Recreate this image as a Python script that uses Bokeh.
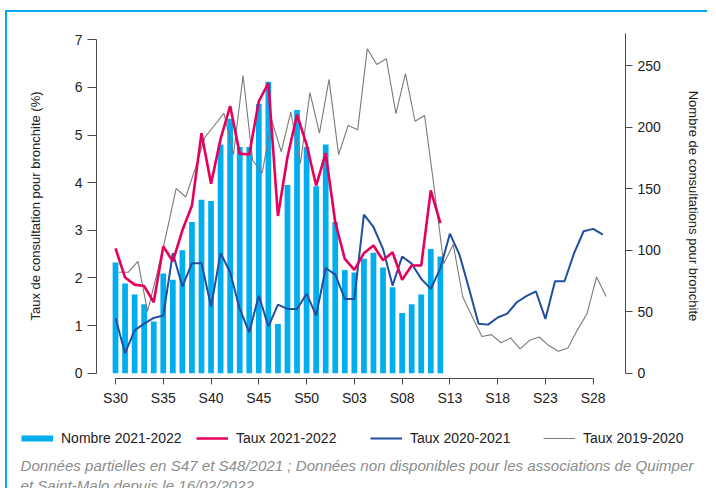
from bokeh.plotting import figure
from bokeh.layouts import column
from bokeh.models import Range1d, LinearAxis, FixedTicker, Legend, LegendItem, Label, ColumnDataSource
from bokeh.transform import dodge
from bokeh.embed import file_html
from bokeh.resources import INLINE

# ---------------- data ----------------
weeks = list(range(30, 53)) + list(range(1, 30))
tick_labels = ["S30", "S35", "S40", "S45", "S50", "S03", "S08", "S13", "S18", "S23", "S28"]

nombre_2122 = [90, 73, 64, 56, 42, 81, 76, 100, 123, 141, 140, 186, 207, 184, 184, 219, 237, 40,
               153, 214, 184, 152, 186, 123, 84, 82, 93, 98, 86, 70, 49, 56, 64, 101, 95]

taux_2122 = [2.62, 2.01, 1.86, 1.83, 1.49, 2.66, 2.35, 3.00, 3.52, 5.04, 3.98, 4.92, 5.61, 4.61,
             4.59, 5.71, 6.09, 3.30, 4.54, 5.43, 4.80, 3.94, 4.62, 3.17, 2.40, 2.17, 2.52, 2.68,
             2.37, 2.54, 1.96, 2.26, 2.26, 3.84, 3.15]

taux_2021 = [1.16, 0.42, 0.90, 1.04, 1.16, 1.21, 2.52, 1.82, 2.31, 2.31, 1.40, 2.52, 2.12, 1.35,
             0.86, 1.63, 0.98, 1.44, 1.35, 1.35, 1.67, 1.21, 2.21, 2.07, 1.56, 1.56, 3.33, 3.07,
             2.61, 1.84, 2.45, 2.30, 1.98, 1.77, 2.20, 2.93, 2.49, 1.78, 1.04, 1.02, 1.17, 1.25,
             1.49, 1.62, 1.72, 1.14, 1.93, 1.93, 2.52, 2.98, 3.03, 2.91]

taux_1920 = [2.12, 2.12, 2.35, 1.30, 2.10, 2.95, 3.88, 3.70, 4.30, 4.95, 5.20, 5.46, 4.59, 6.25,
             4.47, 4.20, 5.31, 4.65, 5.48, 4.40, 5.89, 5.04, 6.17, 4.59, 5.20, 5.11, 6.81, 6.48,
             6.60, 5.45, 6.29, 5.29, 5.41, 3.90, 2.30, 2.70, 1.60, 1.18, 0.77, 0.81, 0.64, 0.74,
             0.51, 0.69, 0.76, 0.58, 0.46, 0.53, 0.91, 1.25, 2.02, 1.61]

left_ticks = [0, 1, 2, 3, 4, 5, 6, 7]
right_ticks = [0, 50, 100, 150, 200, 250]

series_labels = ["Nombre 2021-2022", "Taux 2021-2022", "Taux 2020-2021", "Taux 2019-2020"]
notes = ["Données partielles en S47 et S48/2021 ; Données non disponibles pour les associations de Quimper",
         "et Saint-Malo depuis le 16/02/2022"]

# ---------------- styles ----------------
CYAN = "#00aeef"
RED = "#e6005c"
BLUE = "#1f4f9e"
GREY = "#7a7a7a"
AX = "#4a4a4a"
TXT = "#222222"
FONT = "Liberation Sans"

K = 38.74              # counts per % on the right axis
y0, y1 = -0.111, 7.132
x0, x1 = -1.99, 53.38

p = figure(width=700, height=410, output_backend="svg", toolbar_location=None,
           x_range=Range1d(x0, x1), y_range=Range1d(y0, y1),
           min_border_left=89, min_border_right=82, min_border_top=21, min_border_bottom=44)
p.frame_align = False
p.extra_y_ranges = {"n": Range1d(y0 * K, y1 * K)}
p.outline_line_color = None
p.xgrid.visible = False
p.ygrid.visible = False

idx = list(range(len(weeks)))

p.vbar(x=idx[:len(nombre_2122)], top=nombre_2122, width=0.6, y_range_name="n",
       fill_color=CYAN, line_color=None)
src_1920 = ColumnDataSource(dict(x=idx[:len(taux_1920)], y=taux_1920))
p.line(x=dodge("x", 0.35, range=p.x_range), y="y", source=src_1920, line_color=GREY, line_width=1.1)
p.line(x=idx[:len(taux_2021)], y=taux_2021, line_color=BLUE, line_width=2)
p.line(x=idx[:len(taux_2122)], y=taux_2122, line_color=RED, line_width=2.6)

# x axis
tick_pos = [weeks.index(int(t[1:])) for t in tick_labels]
xa = p.xaxis[0]
xa.ticker = FixedTicker(ticks=tick_pos)
xa.major_label_overrides = {pos: lab for pos, lab in zip(tick_pos, tick_labels)}
xa.bounds = (tick_pos[0], tick_pos[-1])

# left axis
ya = p.yaxis[0]
ya.ticker = FixedTicker(ticks=left_ticks)
ya.bounds = (left_ticks[0], left_ticks[-1])
ya.axis_label = "Taux de consultation pour bronchite (%)"

# right axis
ra = LinearAxis(y_range_name="n", ticker=FixedTicker(ticks=right_ticks),
                bounds=(0, y1 * K), axis_label="Nombre de consultations pour bronchite")
p.add_layout(ra, "right")

for ax, tout, lstand, tstand in ((xa, 6, 5, 0), (ya, 9, 5, 29), (ra, 7, 5, 22)):
    ax.axis_line_color = AX
    ax.major_tick_line_color = AX
    ax.minor_tick_line_color = None
    ax.major_tick_in = 0
    ax.major_tick_out = tout
    ax.major_label_standoff = lstand
    ax.axis_label_standoff = tstand
    ax.major_label_text_font = FONT
    ax.major_label_text_font_size = "14px"
    ax.major_label_text_color = TXT
    ax.axis_label_text_font = FONT
    ax.axis_label_text_font_size = "13px"
    ax.axis_label_text_font_style = "normal"
    ax.axis_label_text_color = TXT

# ---------------- legend + note strip ----------------
q = figure(width=700, height=66, output_backend="svg", toolbar_location=None,
           x_range=Range1d(0, 1), y_range=Range1d(0, 1),
           min_border_left=0, min_border_right=0, min_border_top=0, min_border_bottom=0)
q.frame_align = False
q.axis.visible = False
q.xgrid.visible = False
q.ygrid.visible = False
q.outline_line_color = None
# legend keys: same series, drawn on a range that lies outside this strip's frame
q.extra_y_ranges = {"off": Range1d(-20, -19)}
keys = [q.line(x=idx[:len(nombre_2122)], y=nombre_2122, y_range_name="off", line_color=CYAN, line_width=6),
        q.line(x=idx[:len(taux_2122)], y=taux_2122, y_range_name="off", line_color=RED, line_width=2.6),
        q.line(x=idx[:len(taux_2021)], y=taux_2021, y_range_name="off", line_color=BLUE, line_width=2),
        q.line(x=idx[:len(taux_1920)], y=taux_1920, y_range_name="off", line_color=GREY, line_width=1.1)]
for r, lab, xr in zip(keys, series_labels, (14, 189, 363, 536)):
    lg = Legend(items=[LegendItem(label=lab, renderers=[r])], location=(xr, 42),
                orientation="horizontal", glyph_width=32, glyph_height=14, label_height=14,
                label_standoff=8, padding=0, margin=0, border_line_color=None,
                background_fill_alpha=0, label_text_font=FONT, label_text_font_size="14px",
                label_text_color=TXT)
    q.add_layout(lg)

for k, t in enumerate(notes):
    q.add_layout(Label(x=13, y=23 - 20 * k, x_units="screen", y_units="screen", text=t,
                       text_font=FONT, text_font_style="italic", text_font_size="15.1px",
                       text_color="#8c8c8c", text_baseline="middle"))

page = column(p, q, spacing=0,
              styles={"border-left": "2px solid " + CYAN, "border-top": "2px solid " + CYAN,
                      "position": "relative", "left": "5px", "top": "10px"})

open("out.html", "w").write(file_html(page, INLINE))
